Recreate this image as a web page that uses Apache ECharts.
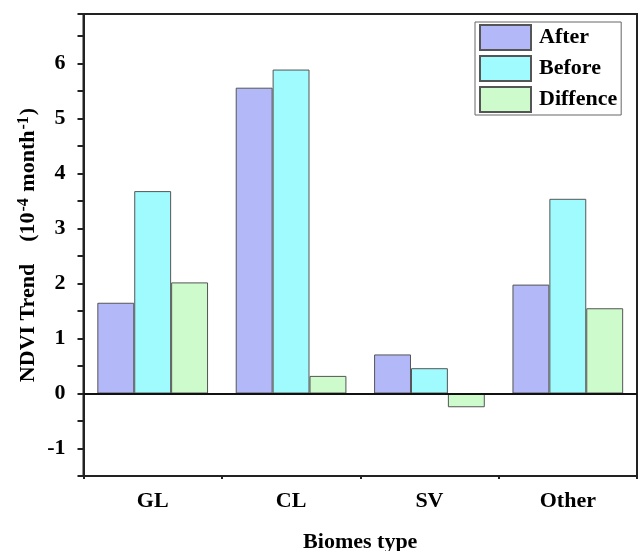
<!DOCTYPE html>
<html>
<head>
    <meta charset="utf-8">
    <title>NDVI Trend by biome</title>
    <script src="https://cdn.jsdelivr.net/npm/echarts@6/dist/echarts.min.js"></script>
    <style>
        html, body { margin: 0; padding: 0; background: #fff; }
        #main { width: 638px; height: 551px; }
    </style>
</head>
<body>
<div id="main"></div>
<script type="text/javascript">
    // 数据
    var biomes = ['GL', 'CL', 'SV', 'Other'];
    var after = [1.65, 5.56, 0.71, 1.98];
    var before = [3.68, 5.89, 0.46, 3.54];
    var diffence = [2.02, 0.32, -0.25, 1.55];

    var serif = 'Liberation Serif';
    var myChart = echarts.init(document.getElementById('main'));

    function barSeries(name, data, color) {
        return {
            name: name,
            type: 'bar',
            data: data,
            barGap: 0,
            barCategoryGap: '20%',
            itemStyle: { color: color, borderColor: '#555', borderWidth: 1 }
        };
    }

    var series = [
        barSeries('After', after, '#b3b8f8'),
        barSeries('Before', before, '#9ffbfd'),
        barSeries('Diffence', diffence, '#cdfbcb')
    ];
    // 0 线
    series[0].markLine = {
        silent: true,
        symbol: 'none',
        label: { show: false },
        lineStyle: { color: '#111', width: 2, type: 'solid' },
        data: [{ yAxis: 0 }]
    };

    var option = {
        animation: false,
        grid: {
            left: 83.5, top: 14, right: 1, bottom: 75,
            outerBoundsMode: 'none',
            show: true, borderColor: '#222', borderWidth: 2
        },
        legend: {
            orient: 'vertical',
            left: 475, top: 22,
            itemWidth: 51, itemHeight: 25, itemGap: 4,
            padding: [2, 4, 2, 4],
            borderColor: '#666', borderWidth: 1,
            icon: 'rect',
            textStyle: { fontFamily: serif, fontWeight: 'bold', fontSize: 22, lineHeight: 24, color: '#000', padding: [0, 0, 0, 3] },
            data: ['After', 'Before', 'Diffence']
        },
        xAxis: [
            {
                type: 'category',
                data: biomes,
                position: 'bottom',
                name: 'Biomes type',
                nameLocation: 'middle',
                nameGap: 55,
                nameTextStyle: { fontFamily: serif, fontWeight: 'bold', fontSize: 22, color: '#000' },
                axisLine: { onZero: false, lineStyle: { color: '#222', width: 2 } },
                axisTick: { alignWithLabel: true, length: 6, lineStyle: { color: '#222', width: 2 } },
                axisLabel: { margin: 14, fontFamily: serif, fontWeight: 'bold', fontSize: 22, color: '#000' }
            },
            {
                // 次刻度
                type: 'category',
                data: biomes,
                position: 'bottom',
                axisLine: { show: false, onZero: false },
                axisTick: { show: true, interval: 0, length: 3, lineStyle: { color: '#222', width: 2 } },
                axisLabel: { show: false }
            }
        ],
        yAxis: {
            type: 'value',
            min: -1.5,
            max: 6.9,
            interval: 0.5,
            splitLine: { show: false },
            axisLine: { show: true, lineStyle: { color: '#222', width: 2 } },
            axisTick: { show: true, length: 6, lineStyle: { color: '#222', width: 2 } },
            axisLabel: {
                margin: 18,
                fontFamily: serif, fontWeight: 'bold', fontSize: 22, color: '#000',
                formatter: function (v) { return Number.isInteger(v) ? String(v) : ''; }
            }
        },
        graphic: [{
            type: 'text',
            x: 28, y: 245,
            rotation: Math.PI / 2,
            style: {
                text: 'NDVI Trend    (10{sup|-4} month{sup|-1})',
                fontFamily: serif, fontWeight: 'bold', fontSize: 22, fill: '#000',
                align: 'center', verticalAlign: 'middle',
                rich: {
                    sup: { fontFamily: serif, fontWeight: 'bold', fontSize: 16, fill: '#000', verticalAlign: 'top', padding: [0, 1, 8, 1] }
                }
            }
        }],
        series: series
    };

    myChart.setOption(option);
</script>
</body>
</html>
